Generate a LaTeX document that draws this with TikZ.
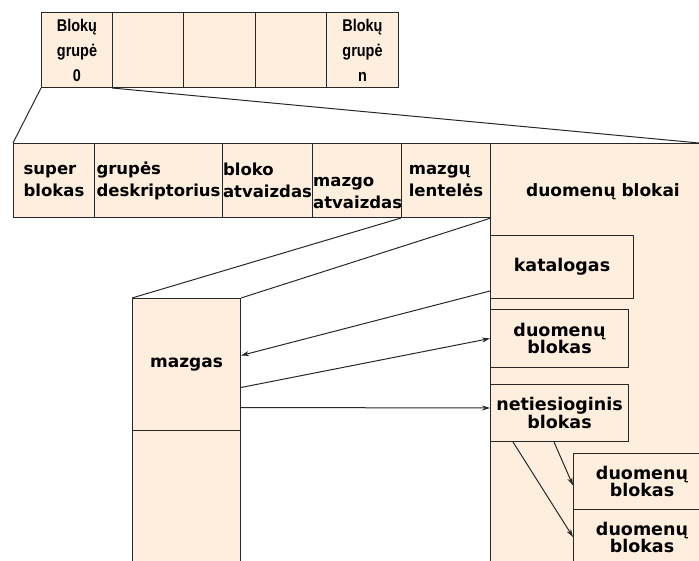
\documentclass[tikz,border=0pt]{standalone}
\usepackage{fontspec}
\setmainfont{DejaVu Sans}
\newfontfamily\arialfont{Liberation Sans}[FakeStretch=0.85]
\usetikzlibrary{arrows.meta}
\definecolor{peach}{RGB}{254,238,222}
\definecolor{ink}{RGB}{40,40,40}
\tikzstyle{cell}=[draw=ink, fill=peach, line width=1pt, anchor=north west, inner sep=0pt, align=center, font=\bfseries\fontsize{17}{22}\selectfont]
\tikzstyle{grp}=[cell, minimum height=75pt, font=\arialfont\bfseries\fontsize{17}{25}\selectfont]
\tikzstyle{fld}=[cell, minimum height=74pt, align=left, font=\bfseries\fontsize{16.5}{22}\selectfont]
\tikzstyle{txt}=[inner sep=1pt, align=left, font=\bfseries\fontsize{16.5}{22}\selectfont]
\tikzstyle{blk}=[cell, font=\bfseries\fontsize{17.5}{17}\selectfont]
\tikzstyle{wire}=[draw=ink, line width=1pt]
\tikzstyle{ptr}=[wire, -{Stealth[length=8pt,width=5pt]}]

\begin{document}
\begin{tikzpicture}[x=1pt, y=-1pt]
	\useasboundingbox (0,0) rectangle (699,561);
	\clip (0,0) rectangle (699,561);
	
	% block groups of the disk
	\node[grp, minimum width=71pt] (g0) at (41,12) {Blokų\\grupė\\0};
	\node[grp, minimum width=71pt] (g1) at (112,12) {};
	\node[grp, minimum width=72pt] (g2) at (183,12) {};
	\node[grp, minimum width=71pt] (g3) at (255,12) {};
	\node[grp, minimum width=72pt] (gn) at (326,12) {Blokų\\grupė\\n};
	
	% one group opened up
	\node[fld, minimum width=81pt] (sb) at (13,143) {super\\blokas};
	\node[fld, minimum width=128pt] (gd) at (94,143) {grupės\\deskriptorius};
	\node[fld, minimum width=90pt] (ba) at (222,143) {bloko\\atvaizdas};
	\node[fld, minimum width=89pt] (ma) at (312,143) {};
	\node[txt, anchor=west] (mat) at ([yshift=-12pt]ma.west) {mazgo\\atvaizdas};
	\node[fld, minimum width=89pt] (ml) at (401,143) {mazgų\\lentelės};
	\node[fld, minimum width=220pt, minimum height=430pt] (db) at (490,143) {};
	\node[font=\bfseries\fontsize{17}{22}\selectfont] (dbt) at (603,192) {duomenų blokai};
	\coordinate (dbc) at (699,143);
	
	% inode table
	\node[cell, minimum width=108pt, minimum height=132pt] (mz) at (132,298) {\raisebox{4pt}{mazgas}};
	\node[cell, minimum width=108pt, minimum height=131pt] (mz2) at (132,430) {};
	
	% data area
	\node[blk, minimum width=143pt, minimum height=63pt] (kat) at (490,235) {katalogas};
	\node[blk, minimum width=138pt, minimum height=58pt] (d1) at (490,309) {duomenų\\blokas};
	\node[blk, minimum width=138pt, minimum height=57pt] (net) at (490,384) {netiesioginis\\blokas};
	\node[blk, minimum width=137pt, minimum height=56pt] (d2) at (573,453) {duomenų\\blokas};
	\node[blk, minimum width=137pt, minimum height=56pt] (d3) at (573,509) {duomenų\\blokas};
	
	\draw[wire] (g0.south west) -- (sb.north west);
	\draw[wire] (g1.south west) -- (dbc);
	\draw[wire] (ml.south west) -- (mz.north west);
	\draw[wire] (ml.south east) -- (mz.north east);
	\draw[ptr] ([yshift=8pt]kat.south west) -- ([yshift=9pt]mz.east);
	\draw[ptr] ([yshift=-23pt]mz.east) -- (d1.west);
	\draw[ptr] ([yshift=-43pt]mz.east) -- ([yshift=5pt]net.west);
	\draw[ptr] ([xshift=64pt]net.south west) -- ([yshift=-4pt]d2.west);
	\draw[ptr] ([xshift=23pt]net.south west) -- ([yshift=-28pt]d3.north west);
\end{tikzpicture}
\end{document}
